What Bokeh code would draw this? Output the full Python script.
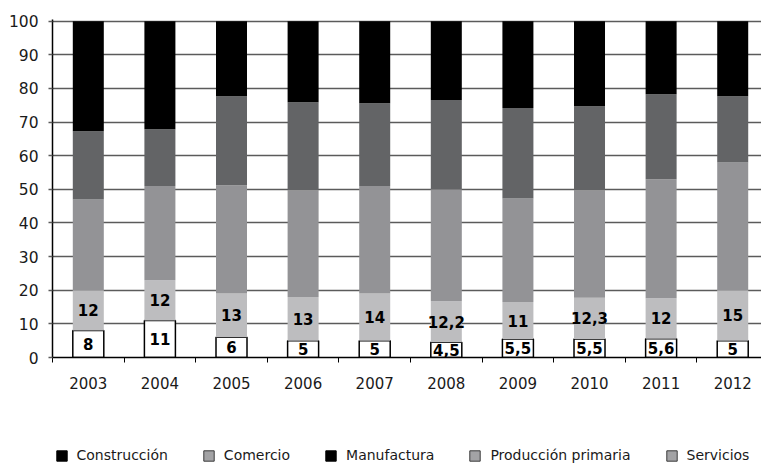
from bokeh.plotting import figure
from bokeh.layouts import column
from bokeh.models import ColumnDataSource, Range1d, FixedTicker, Legend, LegendItem
from bokeh.core.properties import value
from bokeh.embed import file_html
from bokeh.resources import INLINE

# Share of each sector (%) per year, stacked bottom to top
years = ["2003", "2004", "2005", "2006", "2007", "2008", "2009", "2010", "2011", "2012"]
construccion = [8, 11, 6, 5, 5, 4.5, 5.5, 5.5, 5.6, 5]
comercio = [12, 12, 13, 13, 14, 12.2, 11, 12.3, 12, 15]
manufactura = [27.0, 28.0, 32.2, 31.7, 32.0, 33.3, 30.8, 31.9, 35.4, 38.0]
produccion_primaria = [20.3, 16.9, 26.5, 26.2, 24.6, 26.6, 26.9, 25.0, 25.3, 19.7]
servicios = [32.7, 32.1, 22.3, 24.1, 24.4, 23.4, 25.8, 25.3, 21.7, 22.3]

series = ["construccion", "comercio", "manufactura", "produccion_primaria", "servicios"]
fills = ["#ffffff", "#bdbdbf", "#939396", "#636466", "#000000"]

# Legend row as printed: label, swatch fill, swatch border
legend_labels = ["Construcción", "Comercio", "Manufactura", "Producción primaria", "Servicios"]
legend_fills = ["#000000", "#a3a3a5", "#000000", "#a3a3a5", "#a3a3a5"]
legend_lines = ["#000000", "#3a3a3a", "#000000", "#3a3a3a", "#3a3a3a"]

FONT = "DejaVu Sans"


def fmt(v):
    return ("%g" % v).replace(".", ",")


x = list(range(1, len(years) + 1))
source = ColumnDataSource(dict(
    x=x,
    construccion=construccion,
    comercio=comercio,
    manufactura=manufactura,
    produccion_primaria=produccion_primaria,
    servicios=servicios,
    y_con=[c / 2 for c in construccion],
    y_com=[c + m / 2 for c, m in zip(construccion, comercio)],
    t_con=[fmt(v) for v in construccion],
    t_com=[fmt(v) for v in comercio],
))

p = figure(width=761, height=440,
           x_range=Range1d(0.5, 10.402), y_range=Range1d(0, 100.5),
           output_backend="svg", toolbar_location=None,
           min_border_left=52, min_border_right=0,
           min_border_top=19, min_border_bottom=83)
p.outline_line_color = None
p.background_fill_color = "white"
p.border_fill_color = "white"

# Y axis and horizontal grid
yticker = FixedTicker(ticks=list(range(0, 101, 10)), minor_ticks=[])
p.yaxis.ticker = yticker
p.ygrid.ticker = yticker
p.ygrid.grid_line_color = "#5b5b5b"
p.ygrid.grid_line_width = 1.6
p.xgrid.visible = False
p.yaxis.axis_line_color = "black"
p.yaxis.axis_line_width = 1.5
p.yaxis.major_tick_out = 4
p.yaxis.major_tick_in = 0
p.yaxis.major_tick_line_color = "#5b5b5b"
p.yaxis.major_tick_line_width = 1.6
p.yaxis.major_label_standoff = 10
p.yaxis.major_label_text_font = FONT
p.yaxis.major_label_text_font_size = "15.5px"
p.yaxis.major_label_text_color = "#1a1a1a"

# X axis: year labels centred on bars, small ticks between categories
xticker = FixedTicker(ticks=x, minor_ticks=[i + 0.5 for i in range(0, len(years) + 1)])
p.xaxis.ticker = xticker
p.xaxis.major_label_overrides = {i: y for i, y in zip(x, years)}
p.xaxis.axis_line_color = "black"
p.xaxis.axis_line_width = 1.5
p.xaxis.major_tick_line_color = None
p.xaxis.major_tick_out = 0
p.xaxis.major_tick_in = 0
p.xaxis.minor_tick_line_color = "black"
p.xaxis.minor_tick_line_width = 1
p.xaxis.minor_tick_out = 5
p.xaxis.minor_tick_in = 0
p.xaxis.major_label_standoff = 14
p.xaxis.major_label_text_font = FONT
p.xaxis.major_label_text_font_size = "15px"
p.xaxis.major_label_text_color = "#1a1a1a"

# Stacked bars
p.vbar_stack(series, x="x", width=0.433, source=source,
             fill_color=fills,
             line_color=["black", None, None, None, None],
             line_width=[1.5, 0, 0, 0, 0])

# Value labels inside the two lower segments
for ycol, tcol in (("y_con", "t_con"), ("y_com", "t_com")):
    p.text(x="x", y=ycol, text=tcol, source=source,
           text_align="center", text_baseline="middle",
           text_font=value(FONT), text_font_style="bold",
           text_font_size="15px", text_color="black")

# Legend strip underneath the chart (its frame lines up with the chart frame)
lg = figure(width=761, height=24, x_range=Range1d(0, 1), y_range=Range1d(0, 1),
            output_backend="svg", toolbar_location=None,
            x_axis_location=None, y_axis_location=None, min_border=0)
lg.outline_line_color = None
lg.xgrid.visible = False
lg.ygrid.visible = False

nan = float("nan")
items = []
for label, fc, lc in zip(legend_labels, legend_fills, legend_lines):
    r = lg.quad(left=[nan], right=[nan], bottom=[nan], top=[nan],
                fill_color=fc, line_color=lc, line_width=1)
    items.append(LegendItem(label=label, renderers=[r]))

legend = Legend(items=items, orientation="horizontal", location=(2.5, 1),
                padding=0, margin=0, spacing=34,
                glyph_width=13, glyph_height=13, label_standoff=9,
                label_height=16,
                label_text_font=FONT, label_text_font_size="14px",
                label_text_color="#1a1a1a",
                border_line_color=None, background_fill_alpha=0)
lg.add_layout(legend, "center")

layout = column(p, lg, spacing=0)
open("out.html", "w").write(file_html(layout, INLINE))
